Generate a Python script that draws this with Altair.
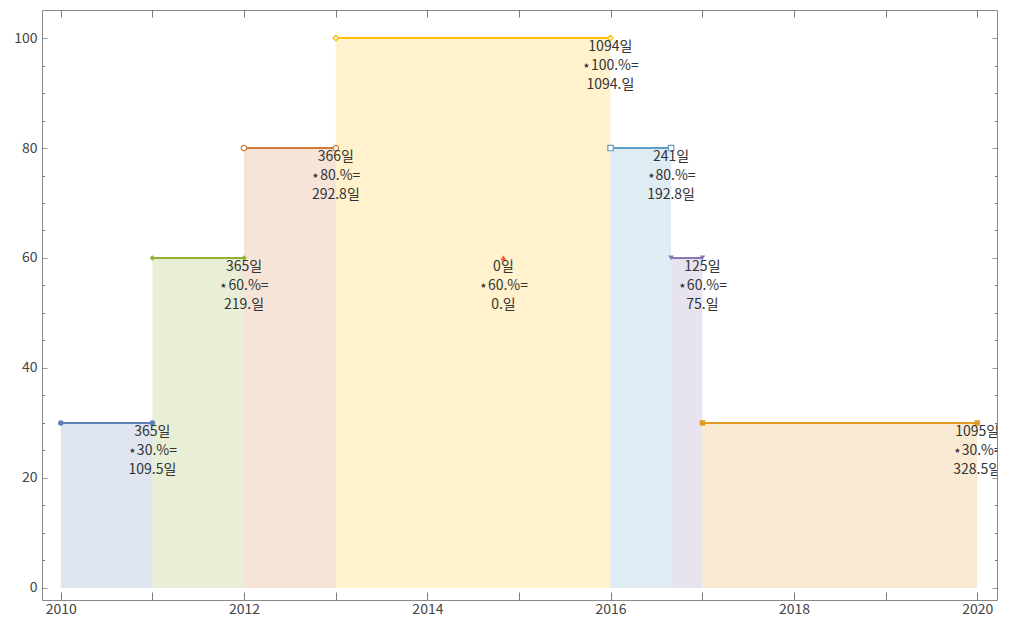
import altair as alt
import pandas as pd

# ---- data ----
seg_names = ["s1", "s2", "s3", "s4", "s5", "s6", "s7", "s8"]
start_dates = ["2010-01-01", "2011-01-01", "2012-01-01", "2013-01-01",
               "2014-10-31", "2016-01-01", "2016-08-29", "2017-01-01"]
end_dates = ["2011-01-01", "2012-01-01", "2013-01-01", "2015-12-31",
             "2014-10-31", "2016-08-29", "2017-01-01", "2020-01-01"]
percent = [30, 60, 80, 100, 60, 80, 60, 30]
days = [365, 365, 366, 1094, 0, 241, 125, 1095]
results = ["109.5일", "219.일", "292.8일", "1094.일", "0.일", "192.8일", "75.일", "328.5일"]
line_colors = ["#5e81b5", "#8fb032", "#cf7a36", "#ffbf00",
               "#eb6235", "#5d9ec7", "#8778b3", "#e19c24"]
marker_shapes = ["circle", "diamond", "circle", "diamond",
                 "triangle-up", "square", "triangle-down", "square"]
marker_filled = [True, True, False, False, True, False, True, True]
year_ticks = list(range(2010, 2021))
label_years = [2010, 2012, 2014, 2016, 2018, 2020]
y_major = [0, 20, 40, 60, 80, 100]
y_all = list(range(0, 105, 5))

rows = []
for i, s in enumerate(seg_names):
    for d in (start_dates[i], end_dates[i]):
        rows.append({"seg": s, "date": d + "T00:00:00", "value": percent[i],
                     "filled": marker_filled[i]})
df = pd.DataFrame(rows)

txt = pd.DataFrame({
    "seg": seg_names,
    "date": [d + "T00:00:00" for d in end_dates],
    "value": percent,
    "label": [f"{d}일\n⋆{p}.%=\n{r}" for d, p, r in zip(days, percent, results)],
})

W, H = 955, 590
FONT = "Noto Sans CJK KR"
TICKC = "#7a7a7a"

xscale = alt.Scale(domain=[alt.DateTime(year=2009, month=10, date=18),
                           alt.DateTime(year=2020, month=3, date=20)])
yscale = alt.Scale(domain=[-2.2, 105.1], nice=False, zero=False)

year_dt = [alt.DateTime(year=y, month=1, date=1) for y in year_ticks]
label_dt = [alt.DateTime(year=y, month=1, date=1) for y in label_years]

color = alt.Color("seg:N", scale=alt.Scale(domain=seg_names, range=line_colors), legend=None)
shape = alt.Shape("seg:N", scale=alt.Scale(domain=seg_names, range=marker_shapes), legend=None)

minor_dash = {"condition": {"test": "datum.value % 20 === 0", "value": [1, 0]},
              "value": [2.5, 30]}

# label axes
x_lab = alt.Axis(values=label_dt, format="%Y", ticks=False, tickSize=0, domain=False,
                 grid=False, title=None, orient="bottom", labelPadding=2,
                 labelFontSize=14, labelColor="#444", labelFont=FONT)
y_lab = alt.Axis(values=y_major, ticks=False, tickSize=0, domain=False, grid=False,
                 title=None, orient="left", labelPadding=5, labelFontSize=14,
                 labelColor="#444", labelFont=FONT)
# inside tick axes
x_tick_bottom = alt.Axis(values=year_dt, labels=False, domain=False, grid=False, title=None,
                         orient="top", offset=-H, tickSize=8, tickColor=TICKC)
x_tick_top = alt.Axis(values=year_dt, labels=False, domain=False, grid=False, title=None,
                      orient="bottom", offset=-H, tickSize=7, tickColor=TICKC)
y_tick_left = alt.Axis(values=y_all, labels=False, domain=False, grid=False, title=None,
                       orient="right", offset=-W, tickSize=5, tickColor=TICKC,
                       tickDash=minor_dash)
y_tick_right = alt.Axis(values=y_all, labels=False, domain=False, grid=False, title=None,
                        orient="left", offset=-W, tickSize=5, tickColor=TICKC,
                        tickDash=minor_dash)

area = alt.Chart(df).mark_area(opacity=0.2).encode(
    x=alt.X("date:T", scale=xscale, axis=x_lab),
    y=alt.Y("value:Q", scale=yscale, axis=y_lab, stack=None),
    y2=alt.datum(0),
    color=color,
    detail="seg:N",
)

line = alt.Chart(df).mark_line(strokeWidth=2).encode(
    x=alt.X("date:T", scale=xscale, axis=x_tick_bottom),
    y=alt.Y("value:Q", scale=yscale, axis=y_tick_left),
    color=color,
    detail="seg:N",
)

pts_filled = alt.Chart(df).transform_filter("datum.filled").mark_point(
    filled=True, size=30, opacity=1).encode(
    x=alt.X("date:T", scale=xscale, axis=x_tick_top),
    y=alt.Y("value:Q", scale=yscale, axis=y_tick_right),
    color=color,
    shape=shape,
)

pts_open = alt.Chart(df).transform_filter("!datum.filled").mark_point(
    filled=False, fill="white", fillOpacity=1, size=30, strokeWidth=1.2, opacity=1).encode(
    x=alt.X("date:T", scale=xscale, axis=None),
    y=alt.Y("value:Q", scale=yscale, axis=None),
    color=color,
    shape=shape,
)

text = alt.Chart(txt).mark_text(
    lineBreak="\n", lineHeight=19, baseline="top", align="center", dy=2,
    fontSize=14, font=FONT, color="#333", clip=True,
).encode(
    x=alt.X("date:T", scale=xscale, axis=None),
    y=alt.Y("value:Q", scale=yscale, axis=None),
    text="label:N",
)

chart = alt.layer(area, line, pts_filled, pts_open, text).resolve_axis(
    x="independent", y="independent"
).properties(
    width=W, height=H,
    autosize=alt.AutoSizeParams(type="none"),
    padding={"left": 34, "top": 2, "right": 10, "bottom": 20},
).configure_view(
    stroke="#8a8a8a", strokeWidth=1
)

chart.save("out.html", embed_options={"renderer": "svg", "actions": False})
